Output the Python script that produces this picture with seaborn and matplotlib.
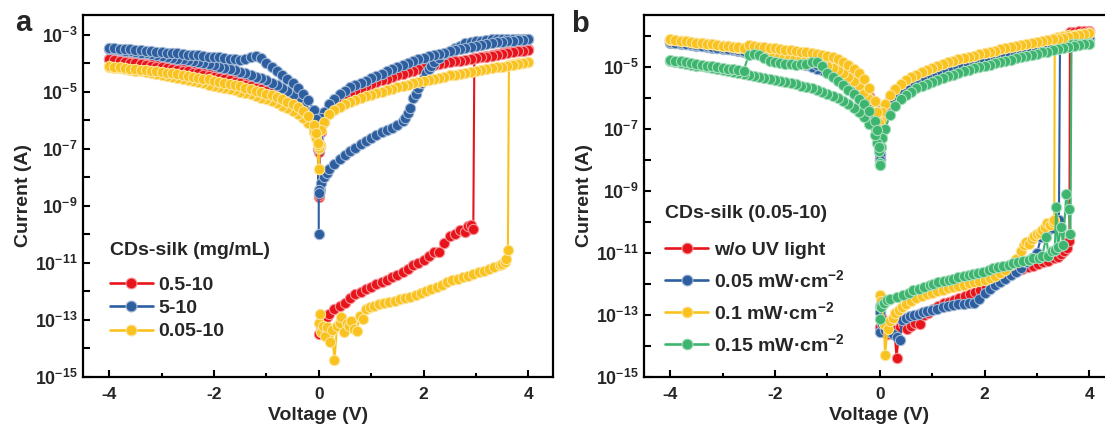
import numpy as np
import pandas as pd
import matplotlib
matplotlib.use("Agg")
import matplotlib.pyplot as plt
import seaborn as sns
from matplotlib.lines import Line2D
from matplotlib.ticker import FixedLocator, FuncFormatter, NullLocator
from matplotlib.colors import to_rgb

# ---------------- voltage grids of the sweeps ----------------
POS_DOWN = [4.0, 3.9, 3.8, 3.7, 3.6, 3.5, 3.4, 3.3, 3.2, 3.1,
            3.0, 2.9, 2.8, 2.7, 2.6, 2.5, 2.4, 2.3, 2.2, 2.1,
            2.0, 1.9, 1.8, 1.7, 1.6, 1.5, 1.4, 1.3, 1.2, 1.1,
            1.0, 0.9, 0.8, 0.7, 0.6, 0.5, 0.4, 0.3, 0.2, 0.1,
            0.05, 0.02, 0.0]
NEG_DOWN = [0.0, -0.02, -0.05,
            -0.1, -0.2, -0.3, -0.4, -0.5, -0.6, -0.7, -0.8, -0.9, -1.0,
            -1.1, -1.2, -1.3, -1.4, -1.5, -1.6, -1.7, -1.8, -1.9, -2.0,
            -2.1, -2.2, -2.3, -2.4, -2.5, -2.6, -2.7, -2.8, -2.9, -3.0,
            -3.1, -3.2, -3.3, -3.4, -3.5, -3.6, -3.7, -3.8, -3.9, -4.0]
NEG_UP = NEG_DOWN[::-1]

# ---------------- panel a : log10(I / A) ----------------
A_LABELS = ["0.5-10", "5-10", "0.05-10"]
A_COLORS = ["#E8141C", "#2D5FA0", "#F9C21F"]

A_RED_FWD_V = [0.0, 0.05, 0.1, 0.15, 0.2, 0.3, 0.4, 0.5, 0.6, 0.7, 0.8, 0.9, 1.0, 1.1, 1.2, 1.3,
               1.4, 1.5, 1.6, 1.7, 1.8, 1.9, 2.0, 2.1, 2.2, 2.3, 2.4, 2.5, 2.6, 2.7, 2.8, 2.85,
               2.9, 2.95, 2.97, 3.1, 3.2, 3.3, 3.4, 3.5, 3.6, 3.7, 3.8, 3.9, 4.0]
A_RED_FWD = [-13.50, -13.20, -13.00, -12.90, -12.80,
             -12.62, -12.50, -12.40, -12.22, -12.10, -12.02, -11.92, -11.85, -11.75, -11.68, -11.60,
             -11.50, -11.42, -11.33, -11.20, -11.08, -11.00, -10.90, -10.75, -10.62, -10.60, -10.30,
             -10.05, -10.00, -9.85, -9.90, -9.72, -9.68, -9.80, -3.82,
             -3.78, -3.74, -3.70, -3.66, -3.63, -3.60, -3.57, -3.55, -3.52, -3.50]
A_RED_BACK = [-3.53, -3.55, -3.58, -3.61, -3.64, -3.67, -3.70, -3.73, -3.76, -3.79,
              -3.82, -3.85, -3.87, -3.90, -3.92, -3.95, -3.99, -4.03, -4.07, -4.11,
              -4.16, -4.21, -4.26, -4.31, -4.36, -4.41, -4.47, -4.53, -4.59, -4.66,
              -4.73, -4.80, -4.88, -4.97, -5.07, -5.18, -5.32, -5.50, -5.72, -6.05,
              -6.40, -6.90, -8.68]
A_RED_NEG_OUT = [-7.10, -6.70, -6.40,
                 -6.12, -5.82, -5.62, -5.48, -5.38, -5.26, -5.16, -5.07, -4.99, -4.92,
                 -4.85, -4.79, -4.73, -4.68, -4.63, -4.58, -4.53, -4.49, -4.45, -4.41,
                 -4.37, -4.33, -4.29, -4.26, -4.23, -4.20, -4.17, -4.14, -4.11, -4.08,
                 -4.06, -4.03, -4.01, -3.98, -3.96, -3.94, -3.92, -3.90, -3.88, -3.85]
A_RED_NEG_BACK = [-3.85, -3.89, -3.92, -3.95, -3.97, -4.00, -4.02, -4.05, -4.08, -4.11,
                  -4.13, -4.16, -4.19, -4.22, -4.25, -4.28, -4.32, -4.35, -4.39, -4.43,
                  -4.47, -4.51, -4.55, -4.59, -4.64, -4.69, -4.74, -4.79, -4.85, -4.91,
                  -4.98, -5.05, -5.13, -5.22, -5.32, -5.44, -5.57, -5.72, -5.92, -6.22,
                  -6.55, -7.00, -8.60]

A_BLUE_FWD_V = [0.0, 0.0, 0.02, 0.05, 0.1, 0.15, 0.2,
                0.3, 0.4, 0.5, 0.6, 0.7, 0.8, 0.9, 1.0, 1.1, 1.2, 1.3, 1.4, 1.5, 1.6,
                1.65, 1.7, 1.75, 1.8, 1.85, 1.9, 1.95, 2.0, 2.05, 2.1, 2.15, 2.2,
                2.3, 2.4, 2.5, 2.6, 2.7, 2.8, 2.9, 3.0, 3.1, 3.2, 3.3, 3.4, 3.5, 3.6, 3.7, 3.8, 3.9, 4.0]
A_BLUE_FWD = [-10.0, -8.5, -8.45, -8.2, -8.0, -7.85, -7.72,
              -7.52, -7.35, -7.2, -7.07, -6.95, -6.83, -6.72, -6.6, -6.5, -6.42, -6.33, -6.25, -6.15, -6.02,
              -5.9, -5.75, -5.55, -5.2, -5.08, -4.85, -4.7, -4.5, -4.35, -4.2, -4.1, -3.95,
              -3.8, -3.68, -3.55, -3.45, -3.38, -3.3, -3.25, -3.22, -3.2, -3.18, -3.16, -3.15, -3.15,
              -3.14, -3.14, -3.13, -3.13, -3.13]
A_BLUE_BACK = [-3.16, -3.18, -3.19, -3.20, -3.22, -3.24, -3.26, -3.29, -3.32, -3.35,
               -3.38, -3.42, -3.46, -3.50, -3.54, -3.58, -3.62, -3.66, -3.71, -3.75,
               -3.80, -3.86, -3.93, -3.99, -4.05, -4.12, -4.20, -4.28, -4.36, -4.44,
               -4.52, -4.60, -4.68, -4.76, -4.84, -4.95, -5.08, -5.24, -5.44, -5.70,
               -5.92, -6.15, -8.45]
A_BLUE_NEG_OUT = [-7.0, -6.6, -6.3,
                  -6.0, -5.7, -5.45, -5.25, -5.1, -4.97, -4.86, -4.76, -4.67, -4.59,
                  -4.52, -4.46, -4.4, -4.34, -4.29, -4.24, -4.19, -4.15, -4.11, -4.07,
                  -4.03, -3.99, -3.96, -3.92, -3.89, -3.86, -3.83, -3.8, -3.77, -3.74,
                  -3.71, -3.68, -3.65, -3.62, -3.6, -3.57, -3.55, -3.52, -3.5, -3.48]
A_BLUE_NEG_BACK = [-3.46, -3.47, -3.48, -3.50, -3.51, -3.53, -3.54, -3.56, -3.57, -3.59,
                   -3.60, -3.62, -3.63, -3.65, -3.67, -3.69, -3.70, -3.72, -3.74, -3.76,
                   -3.77, -3.79, -3.81, -3.83, -3.86, -3.88, -3.85, -3.78, -3.75, -3.82,
                   -3.98, -4.12, -4.26, -4.40, -4.55, -4.70, -4.87, -5.06, -5.30, -5.62,
                   -5.95, -6.30, -8.55]

A_YEL_FWD_V = [0.0, 0.02, 0.05, 0.08, 0.12, 0.16, 0.21, 0.25, 0.3, 0.35,
               0.4, 0.43, 0.48, 0.53, 0.58, 0.62, 0.68, 0.73, 0.78, 0.85,
               0.9, 0.97, 1.05, 1.15, 1.25, 1.35, 1.45, 1.55, 1.65, 1.75,
               1.85, 1.95, 2.05, 2.15, 2.25, 2.35, 2.45, 2.55, 2.65, 2.75,
               2.85, 2.95, 3.05, 3.15, 3.25, 3.35, 3.45, 3.5, 3.55, 3.58,
               3.61, 3.63, 3.7, 3.8, 3.9, 4.0]
A_YEL_FWD = [-13.10, -12.78, -13.43, -13.20, -13.55, -13.25, -13.78, -13.35, -14.42, -13.20,
             -13.09, -12.90, -13.43, -13.10, -13.20, -13.03, -13.30, -13.38, -12.86, -12.95,
             -12.62, -12.55, -12.50, -12.43, -12.40, -12.36, -12.33, -12.28, -12.22, -12.18,
             -12.12, -12.05, -12.00, -11.92, -11.84, -11.76, -11.68, -11.60, -11.55, -11.50,
             -11.44, -11.38, -11.33, -11.27, -11.22, -11.15, -11.08, -11.03, -10.95, -10.85,
             -10.56, -4.05, -4.02, -3.99, -3.97, -3.94]
A_YEL_BACK = [-3.96, -3.99, -4.02, -4.05, -4.08, -4.11, -4.14, -4.17, -4.20, -4.23,
              -4.26, -4.29, -4.33, -4.36, -4.39, -4.42, -4.46, -4.50, -4.54, -4.58,
              -4.62, -4.66, -4.70, -4.74, -4.79, -4.84, -4.89, -4.94, -4.99, -5.04,
              -5.10, -5.16, -5.22, -5.28, -5.35, -5.43, -5.52, -5.63, -5.78, -6.05,
              -6.35, -6.87, -7.69]
A_YEL_NEG_OUT = [-6.95, -6.85, -6.60,
                 -6.40, -6.10, -5.92, -5.78, -5.67, -5.57, -5.48, -5.40, -5.33, -5.26,
                 -5.20, -5.14, -5.09, -5.04, -4.99, -4.94, -4.90, -4.86, -4.82, -4.78,
                 -4.74, -4.70, -4.66, -4.62, -4.58, -4.54, -4.50, -4.46, -4.43, -4.40,
                 -4.37, -4.34, -4.31, -4.28, -4.25, -4.22, -4.20, -4.17, -4.15, -4.12]
A_YEL_NEG_BACK = [-4.10, -4.12, -4.14, -4.16, -4.18, -4.20, -4.22, -4.24, -4.26, -4.28,
                  -4.30, -4.32, -4.35, -4.38, -4.41, -4.44, -4.47, -4.50, -4.53, -4.56,
                  -4.60, -4.64, -4.68, -4.72, -4.76, -4.80, -4.85, -4.90, -4.95, -5.00,
                  -5.06, -5.12, -5.19, -5.26, -5.34, -5.43, -5.54, -5.67, -5.85, -6.15,
                  -6.45, -6.80, -7.69]

# ---------------- panel b : log10(I / A) ----------------
B_LABELS = ["w/o UV light", r"0.05 mW·cm$^{\mathbf{-2}}$",
            r"0.1 mW·cm$^{\mathbf{-2}}$", r"0.15 mW·cm$^{\mathbf{-2}}$"]
B_COLORS = ["#E8141C", "#2D5FA0", "#F9C21F", "#3DB56E"]

B_RED_FWD_V = [0.0, 0.03, 0.08, 0.16, 0.22, 0.28, 0.32, 0.38, 0.45, 0.52,
               0.6, 0.68, 0.76, 0.85, 0.93, 1.02, 1.12, 1.22, 1.32, 1.42,
               1.52, 1.62, 1.72, 1.82, 1.92, 2.02, 2.12, 2.22, 2.32, 2.42,
               2.52, 2.62, 2.72, 2.82, 2.92, 3.02, 3.12, 3.22, 3.32, 3.4,
               3.46, 3.52, 3.57, 3.62, 3.63, 3.7, 3.8, 3.9, 4.0]
B_RED_FWD = [-13.38, -13.06, -13.55, -13.6, -13.45, -13.5, -14.38, -13.4, -13.3, -13.45,
             -13.35, -13.25, -13.3, -13.0, -12.95, -12.8, -12.7, -12.62, -12.58, -12.52,
             -12.45, -12.4, -12.32, -12.25, -12.2, -12.1, -12.0, -11.92, -11.85, -11.76,
             -11.66, -11.58, -11.52, -11.47, -11.42, -11.37, -11.3, -11.25, -11.18, -11.12,
             -11.05, -10.95, -10.85, -10.62, -3.88, -3.87, -3.86, -3.86, -3.85]
B_RED_BACK = [-3.88, -3.92, -3.96, -3.99, -4.02, -4.06, -4.09, -4.12, -4.16, -4.19,
              -4.23, -4.26, -4.30, -4.33, -4.37, -4.41, -4.45, -4.49, -4.53, -4.57,
              -4.61, -4.66, -4.70, -4.75, -4.80, -4.85, -4.90, -4.96, -5.02, -5.08,
              -5.15, -5.22, -5.30, -5.38, -5.47, -5.58, -5.70, -5.86, -6.06, -6.38,
              -6.65, -7.00, -7.80]
B_RED_NEG_OUT = [-7.6, -7.1, -6.8,
                 -6.55, -6.15, -5.9, -5.7, -5.55, -5.42, -5.31, -5.21, -5.12, -5.05,
                 -4.98, -4.92, -4.87, -4.82, -4.78, -4.74, -4.7, -4.67, -4.64, -4.61,
                 -4.58, -4.55, -4.52, -4.49, -4.46, -4.44, -4.41, -4.39, -4.37, -4.35,
                 -4.33, -4.31, -4.29, -4.27, -4.25, -4.23, -4.21, -4.19, -4.17, -4.15]
B_RED_NEG_BACK = [-4.14, -4.16, -4.18, -4.20, -4.22, -4.24, -4.26, -4.28, -4.30, -4.32,
                  -4.34, -4.36, -4.38, -4.40, -4.42, -4.45, -4.47, -4.49, -4.52, -4.54,
                  -4.57, -4.60, -4.63, -4.66, -4.69, -4.72, -4.76, -4.80, -4.84, -4.88,
                  -4.93, -4.99, -5.06, -5.14, -5.24, -5.36, -5.50, -5.68, -5.95, -6.35,
                  -6.70, -7.20, -7.90]

B_BLUE_FWD_V = [0.0, 0.01, 0.05, 0.1, 0.18, 0.25, 0.32, 0.39, 0.42, 0.5,
                0.58, 0.66, 0.74, 0.82, 0.9, 1.0, 1.1, 1.2, 1.3, 1.4,
                1.5, 1.6, 1.7, 1.8, 1.9, 2.0, 2.1, 2.2, 2.3, 2.4,
                2.5, 2.6, 2.7, 2.8, 2.9, 3.0, 3.08, 3.15, 3.22, 3.3,
                3.36, 3.42, 3.44, 3.5, 3.6, 3.7, 3.8, 3.9, 4.0]
B_BLUE_FWD = [-12.9, -13.55, -13.3, -13.5, -13.55, -13.6, -13.7, -13.82, -13.17, -13.1,
              -13.05, -13.0, -12.96, -12.92, -12.88, -12.84, -12.8, -12.76, -12.72, -12.69,
              -12.66, -12.64, -12.62, -12.6, -12.5, -12.3, -12.15, -12.05, -11.95, -11.85,
              -11.72, -11.6, -11.48, -11.3, -11.15, -11.0, -10.5, -10.4, -10.25, -10.2,
              -10.1, -9.95, -4.3, -4.26, -4.22, -4.18, -4.14, -4.11, -4.09]
B_BLUE_BACK = [-4.08, -4.11, -4.14, -4.17, -4.20, -4.23, -4.27, -4.30, -4.34, -4.37,
               -4.40, -4.44, -4.47, -4.50, -4.54, -4.57, -4.61, -4.65, -4.69, -4.73,
               -4.77, -4.81, -4.85, -4.90, -4.94, -4.99, -5.04, -5.09, -5.15, -5.21,
               -5.27, -5.33, -5.40, -5.48, -5.57, -5.67, -5.79, -5.95, -6.15, -6.50,
               -6.80, -7.20, -8.00]
B_BLUE_NEG_OUT = [-7.8, -7.3, -6.95,
                  -6.7, -6.3, -6.05, -5.86, -5.71, -5.58, -5.46, -5.36, -5.27, -5.19,
                  -5.12, -5.06, -5.0, -4.95, -4.9, -4.85, -4.81, -4.77, -4.73, -4.7,
                  -4.66, -4.63, -4.6, -4.57, -4.54, -4.51, -4.49, -4.46, -4.44, -4.42,
                  -4.4, -4.38, -4.36, -4.34, -4.32, -4.3, -4.28, -4.26, -4.24, -4.22]
B_BLUE_NEG_BACK = [-4.20, -4.22, -4.24, -4.26, -4.28, -4.30, -4.32, -4.34, -4.36, -4.38,
                   -4.40, -4.42, -4.44, -4.46, -4.48, -4.50, -4.52, -4.54, -4.57, -4.60,
                   -4.63, -4.66, -4.69, -4.72, -4.76, -4.80, -4.84, -4.88, -4.93, -4.98,
                   -5.04, -5.10, -5.17, -5.25, -5.35, -5.46, -5.60, -5.78, -6.02, -6.40,
                   -6.75, -7.30, -8.00]

B_YEL_FWD_V = [0.0, 0.03, 0.08, 0.1, 0.15, 0.2, 0.25, 0.3, 0.36, 0.42,
               0.5, 0.6, 0.7, 0.8, 0.9, 1.0, 1.1, 1.2, 1.3, 1.4,
               1.5, 1.6, 1.7, 1.8, 1.9, 2.0, 2.1, 2.2, 2.3, 2.4,
               2.5, 2.6, 2.7, 2.75, 2.8, 2.85, 2.9, 2.95, 3.0, 3.05,
               3.1, 3.15, 3.2, 3.25, 3.3, 3.33, 3.34, 3.4, 3.5, 3.6,
               3.7, 3.8, 3.9, 4.0]
B_YEL_FWD = [-12.37, -12.55, -13.3, -14.3, -13.45, -13.2, -13.1, -12.95, -12.85, -12.75,
             -12.65, -12.55, -12.45, -12.38, -12.33, -12.28, -12.23, -12.18, -12.14, -12.1,
             -12.06, -12.02, -11.98, -11.94, -11.9, -11.86, -11.8, -11.74, -11.66, -11.55,
             -11.4, -11.2, -10.95, -10.75, -10.65, -10.7, -10.55, -10.45, -10.38, -10.35,
             -10.25, -10.15, -10.05, -10.1, -10.0, -9.95, -4.08, -4.05, -4.02, -3.99,
             -3.97, -3.95, -3.93, -3.92]
B_YEL_BACK = [-3.92, -3.95, -3.98, -4.00, -4.03, -4.06, -4.09, -4.12, -4.15, -4.18,
              -4.21, -4.24, -4.27, -4.30, -4.33, -4.37, -4.41, -4.44, -4.48, -4.52,
              -4.56, -4.60, -4.64, -4.68, -4.72, -4.76, -4.81, -4.86, -4.92, -4.98,
              -5.04, -5.10, -5.17, -5.25, -5.34, -5.44, -5.56, -5.71, -5.90, -6.20,
              -6.45, -6.75, -7.30]
B_YEL_NEG_OUT = [-7.3, -6.95, -6.7,
                 -6.45, -6.05, -5.8, -5.6, -5.45, -5.32, -5.21, -5.12, -5.04, -4.97,
                 -4.91, -4.86, -4.81, -4.77, -4.73, -4.69, -4.66, -4.63, -4.6, -4.57,
                 -4.54, -4.51, -4.48, -4.46, -4.43, -4.41, -4.38, -4.36, -4.34, -4.32,
                 -4.3, -4.28, -4.26, -4.24, -4.22, -4.2, -4.18, -4.16, -4.15, -4.13]
B_YEL_NEG_BACK = [-4.12, -4.14, -4.16, -4.18, -4.20, -4.22, -4.24, -4.26, -4.28, -4.30,
                  -4.32, -4.33, -4.35, -4.37, -4.38, -4.30, -4.32, -4.35, -4.37, -4.39,
                  -4.41, -4.43, -4.45, -4.47, -4.49, -4.51, -4.53, -4.55, -4.58, -4.61,
                  -4.65, -4.70, -4.76, -4.84, -4.94, -5.06, -5.20, -5.40, -5.70, -6.10,
                  -6.45, -6.80, -7.00]

B_GRN_FWD_V = [0.0, 0.0, 0.03, 0.08, 0.13, 0.2, 0.32, 0.45, 0.55, 0.64,
               0.75, 0.85, 0.95, 1.02, 1.12, 1.22, 1.32, 1.4, 1.5, 1.6,
               1.7, 1.78, 1.88, 1.98, 2.08, 2.16, 2.26, 2.36, 2.46, 2.54,
               2.64, 2.74, 2.84, 2.93, 3.03, 3.1, 3.18, 3.22, 3.28, 3.34,
               3.37, 3.4, 3.46, 3.5, 3.56, 3.61, 3.64, 3.66, 3.75, 3.85, 4.0]
B_GRN_FWD = [-13.12, -12.7, -12.74, -12.6, -12.53, -12.48, -12.42, -12.35, -12.28, -12.2,
             -12.15, -12.1, -12.05, -11.99, -11.95, -11.91, -11.87, -11.83, -11.79, -11.75,
             -11.72, -11.69, -11.64, -11.6, -11.55, -11.5, -11.46, -11.42, -11.38, -11.34,
             -11.3, -11.26, -11.22, -11.18, -11.15, -11.1, -10.48, -11.1, -10.95, -10.9,
             -9.52, -10.8, -10.16, -10.75, -9.09, -9.57, -10.4, -4.25, -4.25, -4.25, -4.24]
B_GRN_BACK = [-4.25, -4.28, -4.31, -4.34, -4.37, -4.40, -4.44, -4.47, -4.51, -4.54,
              -4.58, -4.62, -4.65, -4.69, -4.73, -4.77, -4.81, -4.85, -4.89, -4.93,
              -4.97, -5.01, -5.05, -5.10, -5.15, -5.20, -5.25, -5.30, -5.36, -5.42,
              -5.48, -5.55, -5.62, -5.70, -5.80, -5.92, -6.05, -6.25, -6.55, -7.00,
              -7.30, -7.60, -8.17]
B_GRN_NEG_OUT = [-8.1, -7.7, -7.45,
                 -7.2, -6.85, -6.62, -6.45, -6.32, -6.21, -6.11, -6.02, -5.94, -5.87,
                 -5.81, -5.75, -5.7, -5.65, -5.61, -5.57, -5.53, -5.49, -5.45, -5.42,
                 -5.38, -5.35, -5.32, -5.29, -5.26, -5.23, -5.2, -5.17, -5.14, -5.11,
                 -5.08, -5.05, -5.02, -4.99, -4.96, -4.93, -4.9, -4.87, -4.84, -4.8]
B_GRN_NEG_BACK = [-4.77, -4.80, -4.83, -4.86, -4.88, -4.91, -4.94, -4.96, -4.99, -5.01,
                  -5.04, -5.06, -5.08, -5.11, -5.13, -4.62, -4.58, -4.62, -4.72, -4.80,
                  -4.85, -4.88, -4.90, -4.92, -4.93, -4.92, -4.90, -4.86, -4.84, -4.98,
                  -5.20, -5.33, -5.46, -5.60, -5.74, -5.88, -6.03, -6.20, -6.42, -6.75,
                  -7.05, -7.60, -8.17]

X_TICKS = [-4, -2, 0, 2, 4]
X_MINOR = [-3, -1, 1, 3]
Y_DECADES = list(range(-15, -2))


def sweep(fwd_v, fwd, back, neg_out, neg_back):
    v = list(fwd_v) + POS_DOWN + NEG_DOWN + NEG_UP
    li = list(fwd) + list(back) + list(neg_out) + list(neg_back)
    return pd.DataFrame({"V": v, "I": 10.0 ** np.asarray(li, dtype=float)})


def lighten(c, f=0.55):
    r, g, b = to_rgb(c)
    return (r + (1 - r) * f, g + (1 - g) * f, b + (1 - b) * f)


A_DATA = [sweep(A_RED_FWD_V, A_RED_FWD, A_RED_BACK, A_RED_NEG_OUT, A_RED_NEG_BACK),
          sweep(A_BLUE_FWD_V, A_BLUE_FWD, A_BLUE_BACK, A_BLUE_NEG_OUT, A_BLUE_NEG_BACK),
          sweep(A_YEL_FWD_V, A_YEL_FWD, A_YEL_BACK, A_YEL_NEG_OUT, A_YEL_NEG_BACK)]
B_DATA = [sweep(B_RED_FWD_V, B_RED_FWD, B_RED_BACK, B_RED_NEG_OUT, B_RED_NEG_BACK),
          sweep(B_BLUE_FWD_V, B_BLUE_FWD, B_BLUE_BACK, B_BLUE_NEG_OUT, B_BLUE_NEG_BACK),
          sweep(B_YEL_FWD_V, B_YEL_FWD, B_YEL_BACK, B_YEL_NEG_OUT, B_YEL_NEG_BACK),
          sweep(B_GRN_FWD_V, B_GRN_FWD, B_GRN_BACK, B_GRN_NEG_OUT, B_GRN_NEG_BACK)]

# ---------------- style ----------------
sns.set_theme(style="ticks")
plt.rcParams["font.family"] = ["Liberation Sans", "DejaVu Sans"]
plt.rcParams["font.weight"] = "bold"
plt.rcParams["axes.unicode_minus"] = False
plt.rcParams["mathtext.fontset"] = "custom"
plt.rcParams["mathtext.rm"] = "Liberation Sans:bold"
plt.rcParams["mathtext.bf"] = "Liberation Sans:bold"
plt.rcParams["mathtext.it"] = "Liberation Sans:bold:italic"

MS = 7.4
LW = 1.5

fig = plt.figure(figsize=(11.05, 4.30), dpi=100)
fig.patch.set_facecolor("white")
ax_a = fig.add_axes([0.0751, 0.1233, 0.4253, 0.8419])
ax_b = fig.add_axes([0.5828, 0.1233, 0.4253, 0.8419])


def draw(ax, datasets, colors):
    for df, c in zip(datasets, colors):
        sns.lineplot(data=df, x="V", y="I", sort=False, estimator=None, ax=ax,
                     color=c, lw=LW, marker="o", ms=MS, mec=lighten(c), mew=0.8,
                     legend=False)


def style(ax, ylim_top):
    ax.set_yscale("log")
    ax.set_facecolor("white")
    ax.set_xlim(-4.5, 4.47)
    ax.set_ylim(1e-15, ylim_top)
    ax.xaxis.set_major_locator(FixedLocator(X_TICKS))
    ax.xaxis.set_minor_locator(FixedLocator(X_MINOR))
    ax.set_xticklabels([str(t) for t in X_TICKS])
    ax.yaxis.set_major_locator(FixedLocator([10.0 ** k for k in Y_DECADES]))
    ax.yaxis.set_minor_locator(NullLocator())
    ax.yaxis.set_major_formatter(FuncFormatter(
        lambda v, p: (r"$\mathbf{10^{%d}}$" % round(np.log10(v))) if round(np.log10(v)) % 2 else ""))
    ax.tick_params(axis="both", which="major", direction="in", length=5, width=1.5,
                   color="black", top=False, right=False)
    ax.tick_params(axis="x", which="minor", direction="in", length=3, width=1.5, color="black")
    ax.tick_params(axis="x", which="major", labelsize=12.5, pad=7)
    ax.tick_params(axis="y", which="major", labelsize=12.8, pad=4)
    for lbl in ax.get_xticklabels():
        lbl.set_fontweight("bold")
    for sp in ax.spines.values():
        sp.set_linewidth(1.6)
        sp.set_color("black")
        sp.set_visible(True)
    ax.set_xlabel("Voltage (V)", fontsize=14, fontweight="bold", labelpad=4)
    ax.set_ylabel("Current (A)", fontsize=14, fontweight="bold", labelpad=2)
    ax.grid(False)


draw(ax_a, A_DATA, A_COLORS)
draw(ax_b, B_DATA, B_COLORS)
style(ax_a, 10 ** -2.3)
style(ax_b, 10 ** -3.33)


def legend(ax, labels, colors, title, anchor, spacing, title_sep):
    handles = [Line2D([0], [0], color=c, lw=LW + 0.4, marker="o", ms=MS + 0.4,
                      mec=lighten(c), mew=0.8) for c in colors]
    leg = ax.legend(handles, labels, title=title, loc="upper left", bbox_to_anchor=anchor,
                    frameon=False, borderpad=0, handlelength=2.2, handletextpad=0.3,
                    labelspacing=spacing, prop={"size": 14, "weight": "bold"},
                    title_fontproperties={"size": 14, "weight": "bold"},
                    alignment="left", borderaxespad=0)
    leg._legend_box.sep = title_sep
    return leg


legend(ax_a, A_LABELS, A_COLORS, "CDs-silk (mg/mL)", (0.057, 0.372), 0.30, 12)
legend(ax_b, B_LABELS, B_COLORS, "CDs-silk (0.05-10)", (0.045, 0.474), 0.52, 13.5)

fig.text(0.0136, 0.928, "a", fontsize=21, fontweight="bold", ha="left", va="baseline")
fig.text(0.517, 0.925, "b", fontsize=21, fontweight="bold", ha="left", va="baseline")

fig.savefig("out.png", dpi=100, facecolor="white")
